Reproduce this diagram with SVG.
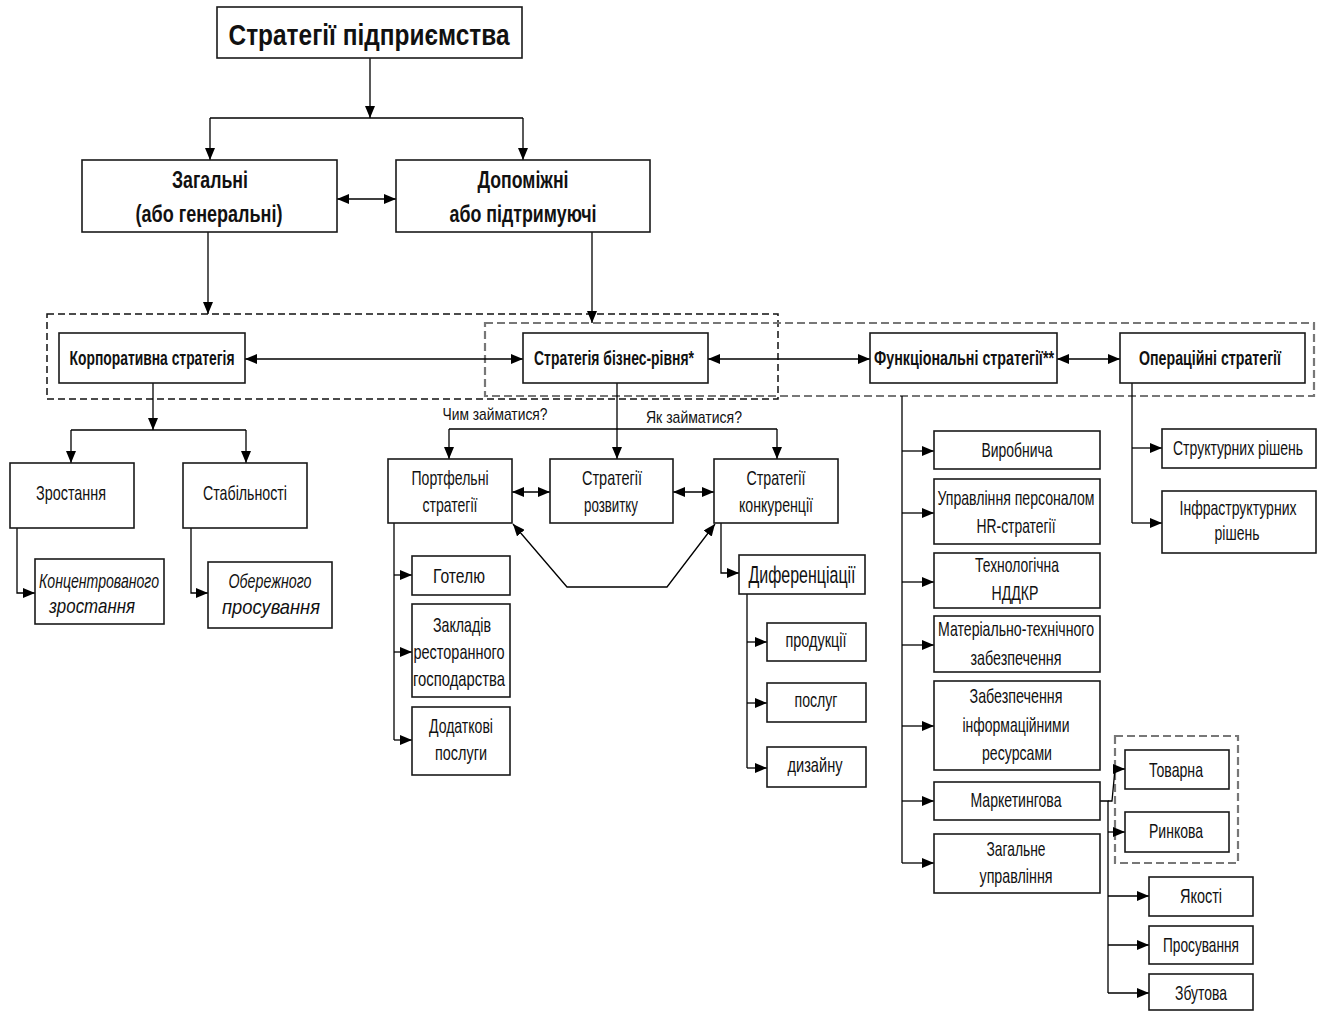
<svg xmlns="http://www.w3.org/2000/svg" width="1326" height="1011" viewBox="0 0 1326 1011">
<style>
.b{fill:#fff;stroke:#1a1a1a;stroke-width:1.6}
.c{fill:none;stroke:#000;stroke-width:1.3}
.a{marker-end:url(#ah)}
.d{marker-start:url(#ah);marker-end:url(#ah)}
.dk{fill:none;stroke:#111;stroke-width:1.5;stroke-dasharray:7 4}
.dg{fill:none;stroke:#777;stroke-width:2.2;stroke-dasharray:8 4}
text{font-family:"Liberation Sans Narrow","Arial Narrow","Liberation Sans",Arial,sans-serif;font-size:21px;fill:#111;text-anchor:middle}
.bo{font-weight:bold;font-size:21px}
.big{font-weight:bold;font-size:23px}
.ttl{font-weight:bold;font-size:29px}
.it{font-style:italic}
.q{font-size:17px}
.lg{font-size:24px}
</style>
<defs>
<marker id="ah" viewBox="0 0 12 10" refX="12" refY="5" markerWidth="12" markerHeight="10" markerUnits="userSpaceOnUse" orient="auto-start-reverse">
<path d="M0,0 L12,5 L0,10 z" fill="#000"/>
</marker>
</defs>

<g id="frames">
<rect class="dk" x="47" y="314" width="731" height="85"/>
<rect class="dg" x="485" y="323" width="829" height="73"/>
<rect class="dg" x="1115" y="736" width="123" height="127"/>
</g>

<g id="connectors">
<path class="c a" d="M370,58 V118"/>
<path class="c" d="M210,118 H523"/>
<path class="c a" d="M210,118 V160"/>
<path class="c a" d="M523,118 V160"/>
<path class="c d" d="M337,199 H396"/>
<path class="c a" d="M208,232 V314"/>
<path class="c a" d="M592,232 V323"/>
<path class="c d" d="M245,359 H523"/>
<path class="c d" d="M708,359 H870"/>
<path class="c d" d="M1057,359 H1120"/>
<path class="c a" d="M153,383 V430"/>
<path class="c" d="M71,430 H246"/>
<path class="c a" d="M71,430 V463"/>
<path class="c a" d="M246,430 V463"/>
<path class="c a" d="M17,528 V593 H35"/>
<path class="c a" d="M191,528 V593 H208"/>
<path class="c a" d="M617,383 V459"/>
<path class="c" d="M449,429 H777"/>
<path class="c a" d="M449,429 V459"/>
<path class="c a" d="M777,429 V459"/>
<path class="c d" d="M512,492 H550"/>
<path class="c d" d="M673,492 H714"/>
<path class="c d" d="M513,524 L567,587 L667,587 L715,524"/>
<path class="c" d="M394,523 V740"/>
<path class="c a" d="M394,575 H412"/>
<path class="c a" d="M394,652 H412"/>
<path class="c a" d="M394,740 H412"/>
<path class="c a" d="M721,523 V573 H739"/>
<path class="c" d="M747,594 V768"/>
<path class="c a" d="M747,642 H767"/>
<path class="c a" d="M747,703 H767"/>
<path class="c a" d="M747,768 H767"/>
<path class="c" d="M902,396 V863"/>
<path class="c a" d="M902,451 H934"/>
<path class="c a" d="M902,513 H934"/>
<path class="c a" d="M902,582 H934"/>
<path class="c a" d="M902,645 H934"/>
<path class="c a" d="M902,726 H934"/>
<path class="c a" d="M902,801 H934"/>
<path class="c a" d="M902,863 H934"/>
<path class="c" d="M1132,383 V523"/>
<path class="c a" d="M1132,448 H1162"/>
<path class="c a" d="M1132,523 H1162"/>
<path class="c" d="M1100,801 H1108 V993"/>
<path class="c a" d="M1108,801 H1112 L1115,769 H1125"/>
<path class="c a" d="M1108,832 H1125"/>
<path class="c a" d="M1108,896 H1149"/>
<path class="c a" d="M1108,945 H1149"/>
<path class="c a" d="M1108,993 H1149"/>
</g>

<g id="labels">
<text class="q" x="495" y="420" textLength="105" lengthAdjust="spacingAndGlyphs">Чим займатися?</text>
<text class="q" x="694" y="423" textLength="96" lengthAdjust="spacingAndGlyphs">Як займатися?</text>
</g>

<g id="n-title"><rect class="b" x="217" y="7" width="305" height="51"/><text class="ttl" x="369" y="45" textLength="281" lengthAdjust="spacingAndGlyphs">Стратегії підприємства</text></g>
<g id="n-general"><rect class="b" x="82" y="160" width="255" height="72"/><text class="big" x="210" y="188" textLength="76" lengthAdjust="spacingAndGlyphs">Загальні</text><text class="big" x="209" y="222" textLength="147" lengthAdjust="spacingAndGlyphs">(або генеральні)</text></g>
<g id="n-support"><rect class="b" x="396" y="160" width="254" height="72"/><text class="big" x="523" y="188" textLength="91" lengthAdjust="spacingAndGlyphs">Допоміжні</text><text class="big" x="523" y="222" textLength="147" lengthAdjust="spacingAndGlyphs">або підтримуючі</text></g>

<g id="n-corp"><rect class="b" x="59" y="333" width="186" height="50"/><text class="bo" x="152" y="365" textLength="165" lengthAdjust="spacingAndGlyphs">Корпоративна стратегія</text></g>
<g id="n-business"><rect class="b" x="523" y="333" width="185" height="50"/><text class="bo" x="614" y="365" textLength="160" lengthAdjust="spacingAndGlyphs">Стратегія бізнес-рівня*</text></g>
<g id="n-functional"><rect class="b" x="870" y="333" width="187" height="50"/><text class="bo" x="964" y="365" textLength="180" lengthAdjust="spacingAndGlyphs">Функціональні стратегії**</text></g>
<g id="n-operational"><rect class="b" x="1120" y="333" width="185" height="50"/><text class="bo" x="1210" y="365" textLength="142" lengthAdjust="spacingAndGlyphs">Операційні стратегії</text></g>

<g id="n-growth"><rect class="b" x="10" y="463" width="124" height="65"/><text x="71" y="500" textLength="70" lengthAdjust="spacingAndGlyphs">Зростання</text></g>
<g id="n-stability"><rect class="b" x="183" y="463" width="124" height="65"/><text x="245" y="500" textLength="84" lengthAdjust="spacingAndGlyphs">Стабільності</text></g>
<g id="n-concentrated"><rect class="b" x="35" y="559" width="129" height="65"/><text class="it" x="99" y="588" textLength="120" lengthAdjust="spacingAndGlyphs">Концентрованого</text><text class="it" x="92" y="613" textLength="86" lengthAdjust="spacingAndGlyphs">зростання</text></g>
<g id="n-careful"><rect class="b" x="208" y="562" width="124" height="66"/><text class="it" x="270" y="588" textLength="83" lengthAdjust="spacingAndGlyphs">Обережного</text><text class="it" x="271" y="614" textLength="98" lengthAdjust="spacingAndGlyphs">просування</text></g>

<g id="n-portfolio"><rect class="b" x="388" y="459" width="124" height="64"/><text x="450" y="485" textLength="77" lengthAdjust="spacingAndGlyphs">Портфельні</text><text x="450" y="512" textLength="55" lengthAdjust="spacingAndGlyphs">стратегії</text></g>
<g id="n-development"><rect class="b" x="550" y="459" width="123" height="64"/><text x="612" y="485" textLength="60" lengthAdjust="spacingAndGlyphs">Стратегії</text><text x="611" y="512" textLength="54" lengthAdjust="spacingAndGlyphs">розвитку</text></g>
<g id="n-competition"><rect class="b" x="714" y="459" width="124" height="64"/><text x="776" y="485" textLength="59" lengthAdjust="spacingAndGlyphs">Стратегії</text><text x="776" y="512" textLength="74" lengthAdjust="spacingAndGlyphs">конкуренції</text></g>

<g id="n-hotel"><rect class="b" x="412" y="556" width="98" height="39"/><text x="459" y="583" textLength="52" lengthAdjust="spacingAndGlyphs">Готелю</text></g>
<g id="n-restaurant"><rect class="b" x="412" y="604" width="98" height="93"/><text x="462" y="632" textLength="58" lengthAdjust="spacingAndGlyphs">Закладів</text><text x="459" y="659" textLength="91" lengthAdjust="spacingAndGlyphs">ресторанного</text><text x="459" y="686" textLength="92" lengthAdjust="spacingAndGlyphs">господарства</text></g>
<g id="n-extra"><rect class="b" x="412" y="707" width="98" height="68"/><text x="461" y="733" textLength="64" lengthAdjust="spacingAndGlyphs">Додаткові</text><text x="461" y="760" textLength="52" lengthAdjust="spacingAndGlyphs">послуги</text></g>

<g id="n-differentiation"><rect class="b" x="739" y="555" width="126" height="39"/><text class="lg" x="802" y="583" textLength="107" lengthAdjust="spacingAndGlyphs">Диференціації</text></g>
<g id="n-products"><rect class="b" x="767" y="623" width="99" height="38"/><text x="816" y="647" textLength="61" lengthAdjust="spacingAndGlyphs">продукції</text></g>
<g id="n-services"><rect class="b" x="767" y="683" width="99" height="39"/><text x="816" y="707" textLength="43" lengthAdjust="spacingAndGlyphs">послуг</text></g>
<g id="n-design"><rect class="b" x="767" y="747" width="99" height="40"/><text x="815" y="772" textLength="55" lengthAdjust="spacingAndGlyphs">дизайну</text></g>

<g id="n-production"><rect class="b" x="934" y="431" width="166" height="38"/><text x="1017" y="457" textLength="71" lengthAdjust="spacingAndGlyphs">Виробнича</text></g>
<g id="n-hr"><rect class="b" x="934" y="479" width="166" height="65"/><text x="1016" y="505" textLength="157" lengthAdjust="spacingAndGlyphs">Управління персоналом</text><text x="1016" y="533" textLength="79" lengthAdjust="spacingAndGlyphs">HR-стратегії</text></g>
<g id="n-tech"><rect class="b" x="934" y="553" width="166" height="55"/><text x="1017" y="572" textLength="84" lengthAdjust="spacingAndGlyphs">Технологічна</text><text x="1015" y="600" textLength="47" lengthAdjust="spacingAndGlyphs">НДДКР</text></g>
<g id="n-material"><rect class="b" x="934" y="616" width="166" height="56"/><text x="1016" y="636" textLength="156" lengthAdjust="spacingAndGlyphs">Матеріально-технічного</text><text x="1016" y="665" textLength="91" lengthAdjust="spacingAndGlyphs">забезпечення</text></g>
<g id="n-info"><rect class="b" x="934" y="681" width="166" height="89"/><text x="1016" y="703" textLength="93" lengthAdjust="spacingAndGlyphs">Забезпечення</text><text x="1016" y="732" textLength="107" lengthAdjust="spacingAndGlyphs">інформаційними</text><text x="1017" y="760" textLength="70" lengthAdjust="spacingAndGlyphs">ресурсами</text></g>
<g id="n-marketing"><rect class="b" x="934" y="782" width="166" height="38"/><text x="1016" y="807" textLength="91" lengthAdjust="spacingAndGlyphs">Маркетингова</text></g>
<g id="n-management"><rect class="b" x="934" y="834" width="166" height="59"/><text x="1016" y="856" textLength="59" lengthAdjust="spacingAndGlyphs">Загальне</text><text x="1016" y="883" textLength="73" lengthAdjust="spacingAndGlyphs">управління</text></g>

<g id="n-structural"><rect class="b" x="1162" y="429" width="154" height="39"/><text x="1238" y="455" textLength="130" lengthAdjust="spacingAndGlyphs">Структурних рішень</text></g>
<g id="n-infrastructural"><rect class="b" x="1162" y="491" width="154" height="62"/><text x="1238" y="515" textLength="117" lengthAdjust="spacingAndGlyphs">Інфраструктурних</text><text x="1237" y="540" textLength="45" lengthAdjust="spacingAndGlyphs">рішень</text></g>

<g id="n-product"><rect class="b" x="1125" y="750" width="104" height="39"/><text x="1176" y="777" textLength="54" lengthAdjust="spacingAndGlyphs">Товарна</text></g>
<g id="n-market"><rect class="b" x="1125" y="812" width="104" height="40"/><text x="1176" y="838" textLength="54" lengthAdjust="spacingAndGlyphs">Ринкова</text></g>
<g id="n-quality"><rect class="b" x="1149" y="877" width="104" height="39"/><text x="1201" y="903" textLength="42" lengthAdjust="spacingAndGlyphs">Якості</text></g>
<g id="n-promotion"><rect class="b" x="1149" y="926" width="104" height="38"/><text x="1201" y="952" textLength="76" lengthAdjust="spacingAndGlyphs">Просування</text></g>
<g id="n-sales"><rect class="b" x="1149" y="974" width="104" height="36"/><text x="1201" y="1000" textLength="52" lengthAdjust="spacingAndGlyphs">Збутова</text></g>
</svg>
